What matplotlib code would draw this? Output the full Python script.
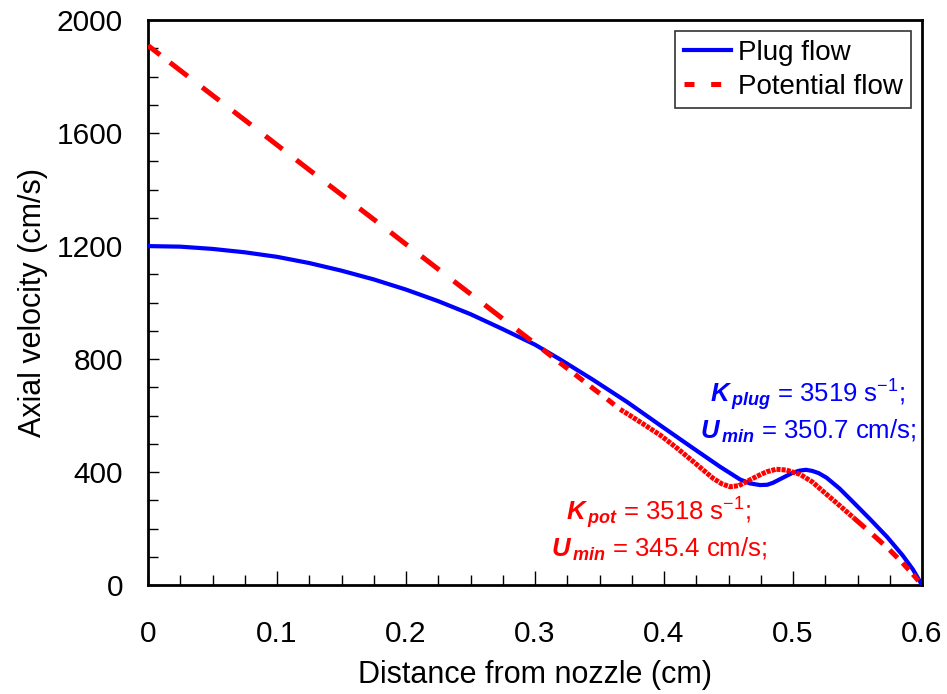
import numpy as np
import matplotlib.pyplot as plt
from matplotlib.lines import Line2D
from matplotlib.ticker import MultipleLocator

plt.rcParams['font.family'] = ['Liberation Sans', 'DejaVu Sans']
plt.rcParams['mathtext.fontset'] = 'custom'
plt.rcParams['mathtext.rm'] = 'Liberation Sans'
plt.rcParams['mathtext.it'] = 'Liberation Sans:italic'
plt.rcParams['mathtext.bf'] = 'Liberation Sans:bold'
plt.rcParams['mathtext.bfit'] = 'Liberation Sans:bold:italic'
plt.rcParams['lines.scale_dashes'] = False

# plug flow (blue)
x_plug = [0, 0.025, 0.05, 0.075, 0.1, 0.125, 0.15, 0.175, 0.2, 0.225, 0.25,
          0.275, 0.3, 0.3194, 0.3452, 0.3711, 0.3969, 0.4227, 0.4434, 0.4589,
          0.4665, 0.4744, 0.48, 0.4845, 0.4922, 0.5, 0.505, 0.51, 0.515,
          0.52, 0.526, 0.536, 0.547, 0.56, 0.573, 0.585, 0.593, 0.6]
u_plug = [1200, 1198, 1190, 1178, 1162, 1140, 1113, 1082, 1046, 1005, 959,
          906, 851, 799, 726, 649, 566, 484, 419, 374,
          360, 354, 355, 362, 380, 398, 405, 408, 404,
          396, 380, 342, 292, 232, 170, 105, 55, 0]

# potential flow (red): widely spaced points, dense middle part, end part
x_pot_a = [0, 0.017, 0.042, 0.066, 0.091, 0.115, 0.140, 0.164, 0.188, 0.212,
           0.237, 0.261, 0.286, 0.306, 0.319, 0.331, 0.343, 0.356, 0.366]
u_pot_a = [1910, 1850, 1762, 1678, 1590, 1505, 1417, 1333, 1249, 1164,
           1076, 992, 904, 834, 788, 746, 703, 658, 622]
x_pot_b = [0.366, 0.371, 0.385, 0.397, 0.41, 0.4227, 0.431, 0.438, 0.445,
           0.4512, 0.458, 0.464, 0.472, 0.4796, 0.487, 0.495, 0.5054, 0.515,
           0.525, 0.534, 0.547]
u_pot_b = [622, 608, 567, 531, 485, 437, 405, 378, 358,
           348, 352, 366, 385, 401, 410, 407, 392, 365,
           325, 290, 238]
x_pot_c = [0.547, 0.562, 0.575, 0.585, 0.593, 0.6]
u_pot_c = [238, 178, 124, 78, 38, 0]

blue = '#0000ff'
red = '#ff0000'

fig = plt.figure(figsize=(9.47, 6.94), dpi=100)
ax = fig.add_axes([0.1563, 0.157, 0.8173, 0.814])
ax.set_xlim(0, 0.6)
ax.set_ylim(0, 2000)

ax.plot(x_plug, u_plug, color=blue, lw=3, zorder=3)


def dashed_by_point(xs, ys, frac=0.55):
    # each segment between two data points gets one dash, like the original
    for i in range(len(xs) - 1):
        x0, x1, y0, y1 = xs[i], xs[i + 1], ys[i], ys[i + 1]
        ax.plot([x0, x0 + frac * (x1 - x0)], [y0, y0 + frac * (y1 - y0)],
                color=red, lw=3.6, solid_capstyle='butt', zorder=4)


dashed_by_point(x_pot_a, u_pot_a)
ax.plot(x_pot_b, u_pot_b, color=red, lw=3.6, ls=(0, (3, 0.7)),
        dash_capstyle='butt', zorder=4)
dashed_by_point(x_pot_c, u_pot_c, frac=0.6)

ax.xaxis.set_major_locator(MultipleLocator(0.1))
ax.xaxis.set_minor_locator(MultipleLocator(0.025))
ax.yaxis.set_major_locator(MultipleLocator(400))
ax.yaxis.set_minor_locator(MultipleLocator(100))
ax.set_xticks(np.arange(0, 0.61, 0.1))
ax.set_xticklabels(['0', '0.1', '0.2', '0.3', '0.4', '0.5', '0.6'])

ax.tick_params(axis='x', which='major', direction='in', length=10, width=1, pad=25, labelsize=21.5)
ax.tick_params(axis='x', which='minor', direction='in', length=7, width=1)
ax.tick_params(axis='y', which='major', direction='in', length=8, width=1, pad=18, labelsize=21.5)
ax.tick_params(axis='y', which='minor', direction='in', length=7, width=1)
for s in ax.spines.values():
    s.set_linewidth(2)

ax.set_xlabel('Distance from nozzle (cm)', fontsize=22, labelpad=9)
ax.set_ylabel('Axial velocity (cm/s)', fontsize=22, labelpad=6)

handles = [Line2D([], [], color=blue, lw=3),
           Line2D([], [], color=red, lw=3.6, ls=(0, (7.2, 12)), dash_capstyle='butt')]
leg = ax.legend(handles, ['Plug flow', 'Potential flow'], loc='upper right',
                fontsize=20, frameon=True, fancybox=False, edgecolor='black',
                borderaxespad=0.4, handlelength=1.7, handletextpad=0.25,
                borderpad=0.3, labelspacing=0.3)
leg.get_frame().set_linewidth(1.2)

ax.text(0.5116, 616, r'$\mathbfit{K}_{\,\mathbfit{plug}}$ = 3519 s$^{-1}$;' + '\n' +
        r'$\mathbfit{U}_{\,\mathbfit{min}}$ = 350.7 cm/s;',
        color=blue, fontsize=18.5, ha='center', va='center', multialignment='center')
ax.text(0.396, 198, r'$\mathbfit{K}_{\,\mathbfit{pot}}$ = 3518 s$^{-1}$;' + '\n' +
        r'$\mathbfit{U}_{\,\mathbfit{min}}$ = 345.4 cm/s;',
        color=red, fontsize=18.5, ha='center', va='center', multialignment='center')

fig.savefig('out.png', dpi=100)
